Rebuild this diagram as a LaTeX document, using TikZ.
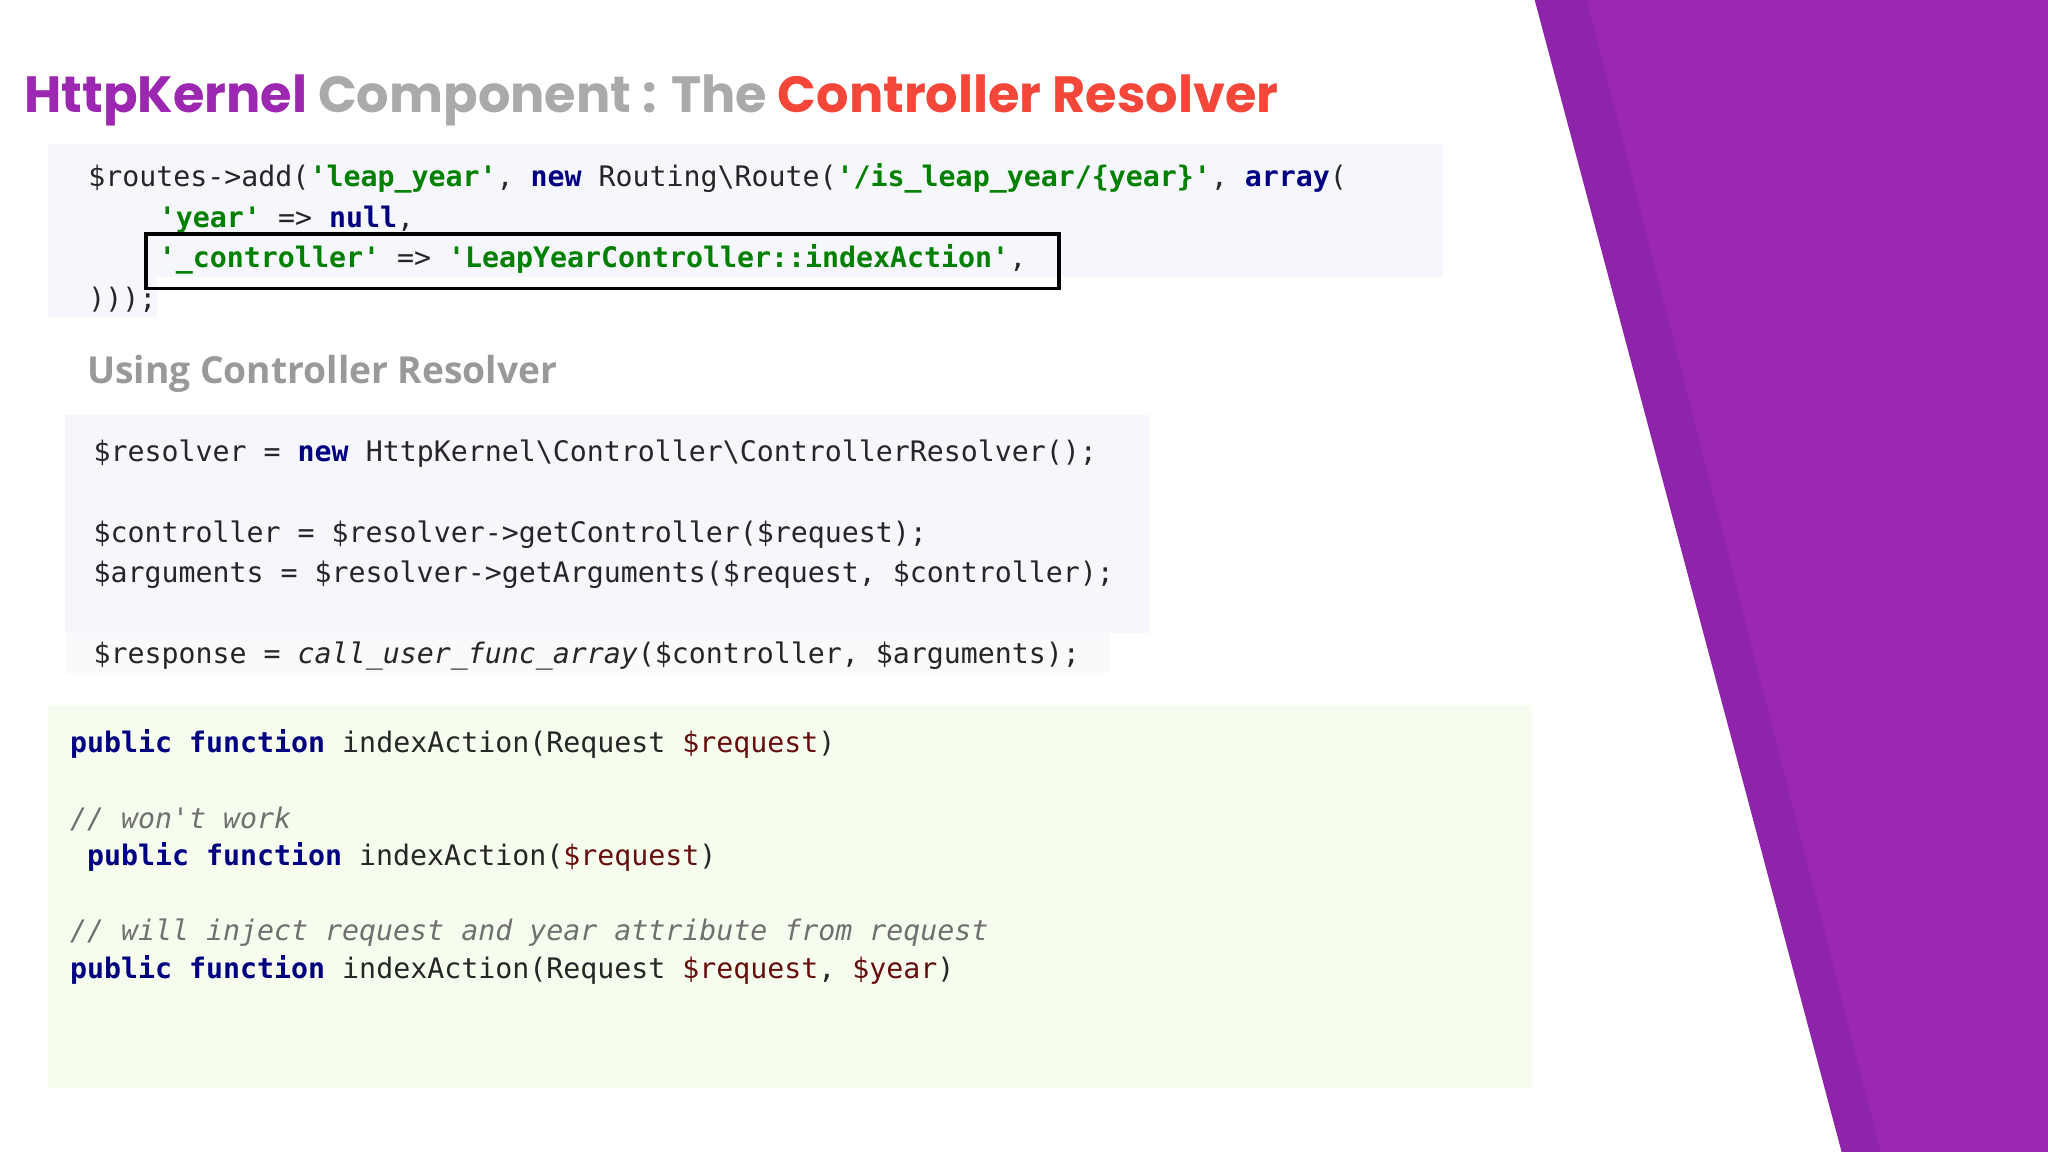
\documentclass[tikz,border=0pt]{standalone}
\usepackage{fontspec}
\setmainfont{Poppins}
\setsansfont{Open Sans}
\setmonofont{DejaVu Sans Mono}
\usetikzlibrary{positioning}
\definecolor{kwblue}{HTML}{000080}
\definecolor{strgreen}{HTML}{008000}
\definecolor{vardark}{HTML}{660E0E}
\definecolor{cmtgray}{HTML}{707070}
\definecolor{purpdark}{HTML}{8E24AA}
\definecolor{purplite}{HTML}{9C27B0}
\definecolor{titlered}{HTML}{F4473A}
\definecolor{titlegray}{HTML}{AAAAAA}
\definecolor{bgblue}{HTML}{F6F7FC}
\definecolor{bggreen}{HTML}{F6FDEE}
\newcommand{\kw}[1]{\textcolor{kwblue}{\bfseries #1}}
\newcommand{\str}[1]{\textcolor{strgreen}{\bfseries #1}}
\newcommand{\vr}[1]{\textcolor{vardark}{#1}}
\newcommand{\cmt}[1]{\textcolor{cmtgray}{\itshape #1}}
\tikzset{
    codeline/.style={anchor=base west, inner sep=0pt, font=\ttfamily\fontsize{6.15}{7}\selectfont, text=black!85},
    codebg/.style={fill=#1, draw=none},
    node distance=1.5
}
\begin{document}
\begin{tikzpicture}[x=0.01cm, y=-0.01cm]
  \useasboundingbox (0,0) rectangle (1568,882);
  % backgrounds
  \fill[codebg=bgblue] (37,110) rectangle (1105,212);
  \fill[codebg=bgblue] (37,212) rectangle (120,243);
  \fill[codebg=bgblue] (50,318) rectangle (880,485);
  \fill[codebg=bgblue!60] (50,485) rectangle (850,515);
  \fill[codebg=bggreen] (37,540) rectangle (1173,833);
  % right wedge
  \fill[purpdark] (1175,0) -- (1568,0) -- (1568,882) -- (1410,882) -- cycle;
  \fill[purplite] (1215,0) -- (1568,0) -- (1568,882) -- (1440,882) -- cycle;

  % title
  \node[anchor=base west, inner sep=0pt, font=\bfseries\fontsize{11.1}{12}\selectfont] (title) at (18,86)
    {\textcolor{purplite}{HttpKernel} \textcolor{titlegray}{Component : The} \textcolor{titlered}{Controller Resolver}};
  \node[anchor=base west, inner sep=0pt, font=\sffamily\bfseries\fontsize{8.1}{9}\selectfont, text=titlegray!90!black] (subtitle) at (66,294) {Using Controller Resolver};

  % routes block
  \node[codeline] (r1) at (67,143) {\$routes->add(\str{'leap\_year'}, \kw{new} Routing\textbackslash Route(\str{'/is\_leap\_year/\{year\}'}, \kw{array}(};
  \node[codeline] (r2) at (121,174) {\str{'year'} => \kw{null},};
  \node[codeline] (r3) at (121,205) {\str{'\_controller'} => \str{'LeapYearController::indexAction'},};
  \node[codeline] (r4) at (67,236) {)));};
  \draw[thick] (112,179) rectangle (811,221);

  % resolver block
  \node[codeline] (c1) at (71,353) {\$resolver = \kw{new} HttpKernel\textbackslash Controller\textbackslash ControllerResolver();};
  \node[codeline] (c2) at (71,415) {\$controller = \$resolver->getController(\$request);};
  \node[codeline] (c3) at (71,446) {\$arguments = \$resolver->getArguments(\$request, \$controller);};
  \node[codeline] (c4) at (71,508) {\$response = {\itshape call\_user\_func\_array}(\$controller, \$arguments);};

  % controller signatures
  \node[codeline] (s1) at (53,576) {\kw{public} \kw{function} indexAction(Request \vr{\$request})};
  \node[codeline] (s2) at (53,634) {\cmt{// won't work}};
  \node[codeline] (s3) at (66,663) {\kw{public} \kw{function} indexAction(\vr{\$request})};
  \node[codeline] (s4) at (53,720) {\cmt{// will inject request and year attribute from request}};
  \node[codeline] (s5) at (53,749) {\kw{public} \kw{function} indexAction(Request \vr{\$request}, \vr{\$year})};
\end{tikzpicture}
\end{document}
